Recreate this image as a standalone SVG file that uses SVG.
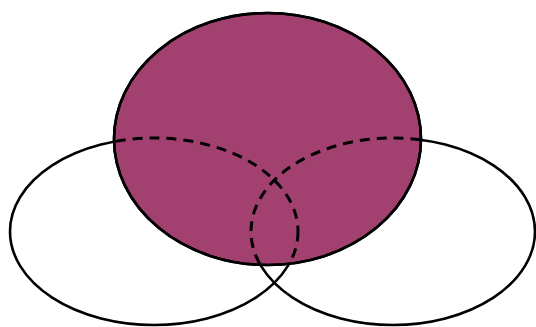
<svg xmlns="http://www.w3.org/2000/svg" width="536" height="327" viewBox="0 0 536 327">
  <style>
    .outline { fill: none; stroke: #000; stroke-width: 2.6; }
    .dash { fill: none; stroke: #000; stroke-width: 3; stroke-dasharray: 10 7; }
    .main { fill: #A2416F; stroke: #000; stroke-width: 2.6; }
  </style>
  <defs>
    <clipPath id="inside">
      <ellipse cx="267.5" cy="139" rx="153.5" ry="126"/>
    </clipPath>
  </defs>
  <rect width="536" height="327" fill="#fff"/>
  <g id="left-set">
    <ellipse class="outline" cx="154" cy="231.5" rx="144" ry="93.5"/>
  </g>
  <g id="right-set">
    <ellipse class="outline" cx="393" cy="231.5" rx="142" ry="93.5"/>
  </g>
  <g id="top-set">
    <ellipse class="main" cx="267.5" cy="139" rx="153.5" ry="126"/>
  </g>
  <g id="hidden-edges" clip-path="url(#inside)">
    <ellipse class="dash" cx="154" cy="231.5" rx="144" ry="93.5"/>
    <ellipse class="dash" cx="393" cy="231.5" rx="142" ry="93.5"/>
  </g>
  <g id="top-outline">
    <ellipse class="outline" cx="267.5" cy="139" rx="153.5" ry="126"/>
  </g>
</svg>
